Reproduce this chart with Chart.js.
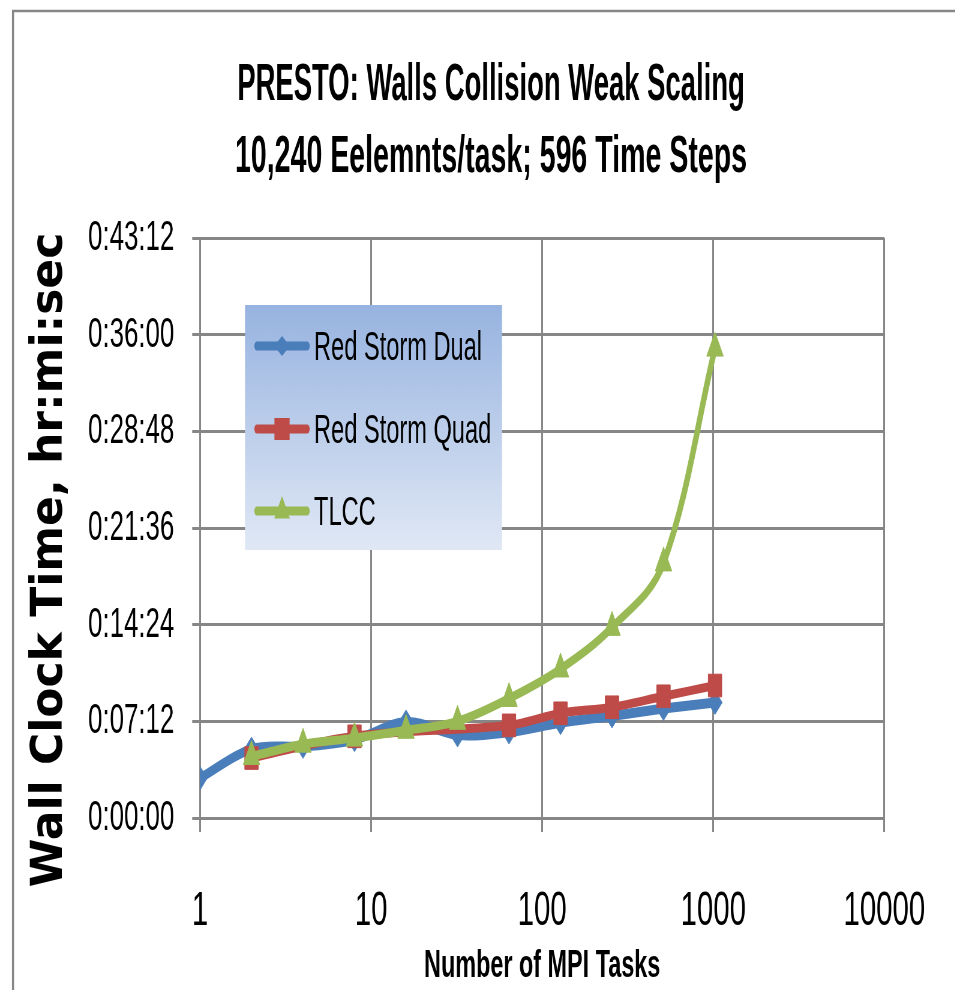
<!DOCTYPE html>
<html><head><meta charset="utf-8">
<script src="https://cdn.jsdelivr.net/npm/chart.js@4"></script>
<style>
html,body{margin:0;padding:0;overflow:hidden;background:#fff;width:955px;height:990px}
#wrap{position:absolute;left:0;top:0;width:1592px;height:990px;transform:scaleX(0.6);transform-origin:0 0}
</style></head><body>
<div id="wrap"><canvas id="c"></canvas></div>
<script>
// ---- data ----
const chartTitle = ['PRESTO: Walls Collision Weak Scaling', '10,240 Eelemnts/task; 596 Time Steps'];
const xAxisTitle = 'Number of MPI Tasks';
const yAxisTitle = 'Wall Clock Time, hr:mi:sec';
const seriesNames = ['Red Storm Dual', 'Red Storm Quad', 'TLCC'];

const dualTasks = [1, 2, 4, 8, 16, 32, 64, 128, 256, 512, 1024];
const dualSeconds = [178, 308, 320, 350, 429, 371, 384, 426, 456, 489, 516];

const quadTasks = [2, 8, 64, 128, 256, 512, 1024];
const quadSeconds = [268, 365, 414, 468, 495, 544, 592];

const tlccTasks = [2, 4, 8, 16, 32, 64, 128, 256, 512, 1024];
const tlccSeconds = [275, 330, 357, 392, 432, 534, 666, 852, 1140, 2100];

const xTickValues = [1, 10, 100, 1000, 10000];
const xTickLabels = ['1', '10', '100', '1000', '10000'];
const yTickSeconds = [0, 432, 864, 1296, 1728, 2160, 2592];
const yTickLabels = ['0:00:00', '0:07:12', '0:14:24', '0:21:36', '0:28:48', '0:36:00', '0:43:12'];

// ---- styling ----
const SX = 0.6;                 // horizontal squeeze of the whole picture
const L = px => px / SX;        // screen px -> canvas units (x)
const W = 1592, H = 990;
const colors = ['#4a7ebb', '#be4b48', '#98b954'];
const gridColor = '#868686';
const FONT = '"Liberation Sans", Arial, sans-serif';

const pts = (xs, ys) => xs.map((x, i) => ({x: x, y: ys[i]}));

const framePlugin = {
  id: 'frame',
  beforeDraw(chart) {
    const ctx = chart.ctx;
    ctx.save();
    ctx.strokeStyle = '#878787';
    ctx.lineWidth = 3.5;
    ctx.beginPath(); ctx.moveTo(L(13), 10); ctx.lineTo(L(13), H); ctx.stroke();
    ctx.lineWidth = 2.5;
    ctx.beginPath(); ctx.moveTo(L(12), 11); ctx.lineTo(W, 11); ctx.stroke();
    ctx.restore();
  },
  afterDraw(chart) {
    const ctx = chart.ctx;
    ctx.save();
    // chart title
    ctx.fillStyle = '#000';
    ctx.textAlign = 'center';
    ctx.textBaseline = 'middle';
    ctx.font = 'bold 52px ' + FONT;
    chartTitle.forEach((t, i) => {
      ctx.save();
      ctx.translate(L(491), i === 0 ? 86 : 158);
      ctx.scale(i === 0 ? 0.88 : 0.915, 1);
      ctx.fillText(t, 0, 0);
      ctx.restore();
    });
    // y axis title (not squeezed)
    ctx.save();
    ctx.translate(L(62), 560);
    ctx.scale(1 / SX, 1);
    ctx.rotate(-Math.PI / 2);
    ctx.font = 'bold 44px "DejaVu Sans", Verdana, sans-serif';
    ctx.textAlign = 'center';
    ctx.textBaseline = 'alphabetic';
    ctx.fillText(yAxisTitle, 0, 0);
    ctx.restore();
    // legend box
    const x0 = L(245), y0 = 305, w = L(502) - L(245), h = 245;
    const g = ctx.createLinearGradient(0, y0, 0, y0 + h);
    g.addColorStop(0, '#97b3e0');
    g.addColorStop(1, '#e0e8f5');
    ctx.fillStyle = g;
    ctx.fillRect(x0, y0, w, h);
    const rows = [346, 429, 511];
    chart.data.datasets.forEach((ds, i) => {
      const y = rows[i];
      ctx.strokeStyle = ds.borderColor;
      ctx.lineWidth = 9;
      ctx.lineCap = 'round';
      ctx.beginPath(); ctx.moveTo(L(257), y); ctx.lineTo(L(307), y); ctx.stroke();
      const cx = L(282);
      ctx.fillStyle = ds.borderColor;
      ctx.beginPath();
      if (ds.pointStyle === 'rectRot') {
        const r = 10;
        ctx.moveTo(cx - r * 1.3, y); ctx.lineTo(cx, y - r); ctx.lineTo(cx + r * 1.3, y); ctx.lineTo(cx, y + r);
      } else if (ds.pointStyle === 'rect') {
        const s = 11;
        ctx.rect(cx - s * 1.15, y - s, 2.3 * s, 2 * s);
      } else {
        const r = 15;
        ctx.moveTo(cx, y - r); ctx.lineTo(cx + r * 0.866, y + r / 2); ctx.lineTo(cx - r * 0.866, y + r / 2);
      }
      ctx.closePath(); ctx.fill();
      ctx.fillStyle = '#000';
      ctx.font = '41px ' + FONT;
      ctx.textAlign = 'left';
      ctx.textBaseline = 'middle';
      ctx.save();
      ctx.translate(L(314), y + 3);
      ctx.scale(0.96, 1);
      ctx.fillText(ds.label, 0, 0);
      ctx.restore();
    });
    ctx.restore();
  }
};

new Chart(document.getElementById('c'), {
  type: 'line',
  data: {
    datasets: [
      {label: seriesNames[0], data: pts(dualTasks, dualSeconds), borderColor: colors[0], backgroundColor: colors[0],
       borderWidth: 10, pointStyle: 'rectRot', pointRadius: 12, pointBorderWidth: 1, tension: 0.35, order: 3},
      {label: seriesNames[1], data: pts(quadTasks, quadSeconds), borderColor: colors[1], backgroundColor: colors[1],
       borderWidth: 9, pointStyle: 'rect', pointRadius: 16, pointBorderWidth: 1, tension: 0.35, order: 2},
      {label: seriesNames[2], data: pts(tlccTasks, tlccSeconds), borderColor: colors[2], backgroundColor: colors[2],
       borderWidth: 9, pointStyle: 'triangle', pointRadius: 16, pointBorderWidth: 1, tension: 0.35, order: 1}
    ]
  },
  options: {
    responsive: true,
    maintainAspectRatio: false,
    animation: false,
    events: [],
    layout: {padding: {left: 0, right: W - L(885), top: 238, bottom: 0}},
    plugins: {legend: {display: false}, title: {display: false}, tooltip: {enabled: false}},
    scales: {
      x: {
        type: 'logarithmic', min: 1, max: 10000, position: 'bottom',
        afterBuildTicks: s => { s.ticks = xTickValues.map(v => ({value: v})); },
        afterFit: s => { s.height = H - 818; },
        ticks: {
          callback: (v, i) => xTickLabels[i],
          font: {family: FONT, size: 49}, color: '#000', padding: 50,
          maxRotation: 0, autoSkip: false
        },
        grid: {color: gridColor, lineWidth: 3, tickLength: 14},
        border: {color: gridColor, width: 3},
        title: {display: true, text: xAxisTitle, color: '#000',
                font: {family: FONT, size: 39, weight: 'bold'}, padding: {top: 0, bottom: 0}}
      },
      y: {
        min: 0, max: 2592,
        afterBuildTicks: s => { s.ticks = yTickSeconds.map(v => ({value: v})); },
        afterFit: s => { s.width = L(200); },
        ticks: {callback: (v, i) => yTickLabels[i], font: {family: FONT, size: 43}, color: '#000', padding: 30},
        grid: {color: gridColor, lineWidth: 3, tickLength: 13},
        border: {color: gridColor, width: 3}
      }
    }
  },
  plugins: [framePlugin]
});
</script>
</body></html>
